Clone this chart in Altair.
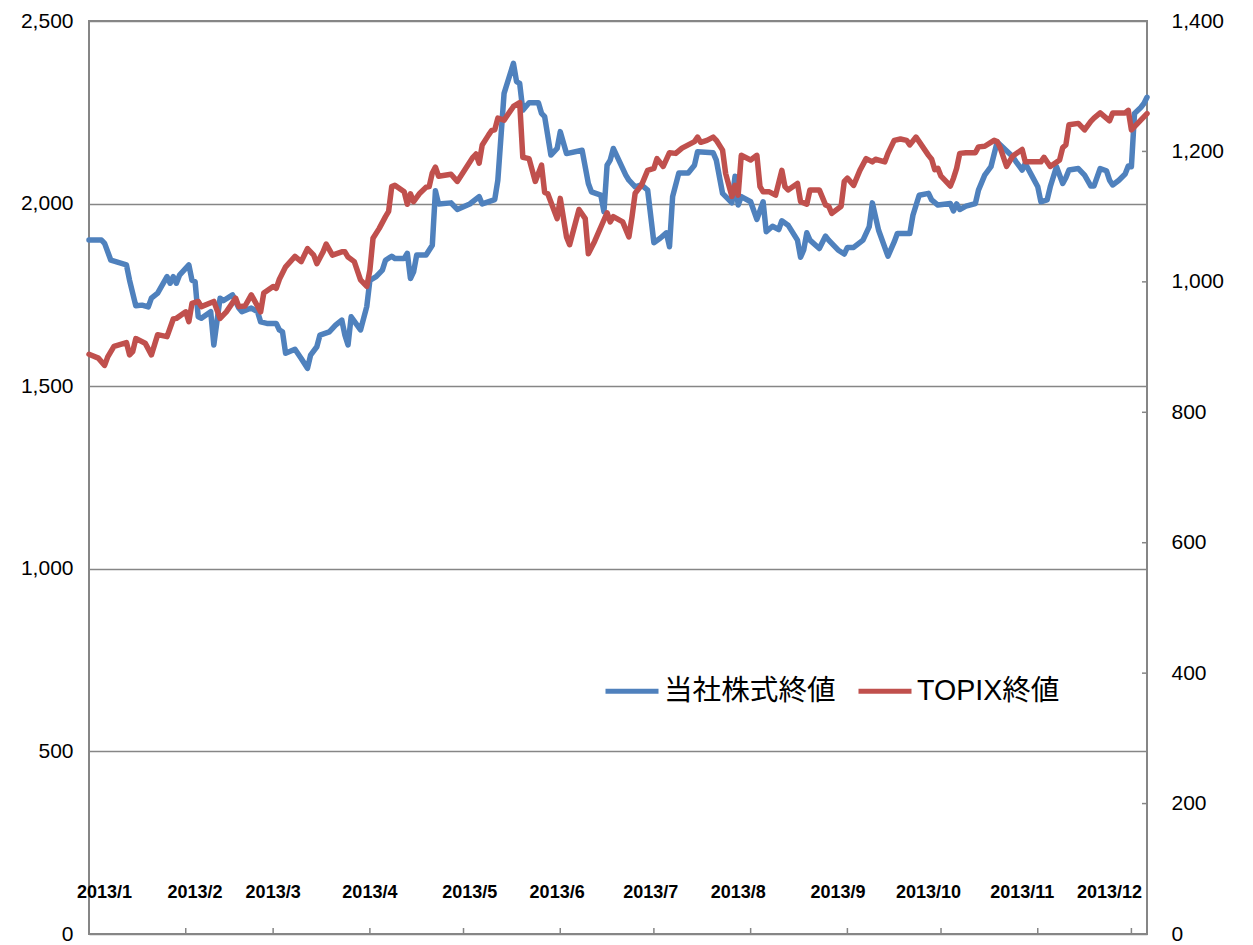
import altair as alt
import pandas as pd

S1 = "当社株式終値"
S2 = "TOPIX終値"
BLUE = "#4F81BD"
RED = "#C0504D"
FRAME = "#868686"

stock_dates = [
    "2013-01-04", "2013-01-08", "2013-01-09", "2013-01-11", "2013-01-16", "2013-01-17", "2013-01-19",
    "2013-01-21", "2013-01-23", "2013-01-24", "2013-01-26", "2013-01-29", "2013-01-30", "2013-01-31",
    "2013-02-01", "2013-02-02", "2013-02-05", "2013-02-06", "2013-02-07", "2013-02-08", "2013-02-09",
    "2013-02-12", "2013-02-13", "2013-02-15", "2013-02-16", "2013-02-19", "2013-02-21", "2013-02-22",
    "2013-02-25", "2013-02-27", "2013-02-28", "2013-03-02", "2013-03-05", "2013-03-06", "2013-03-07",
    "2013-03-08", "2013-03-11", "2013-03-13", "2013-03-15", "2013-03-16", "2013-03-18", "2013-03-19",
    "2013-03-22", "2013-03-24", "2013-03-26", "2013-03-27", "2013-03-28", "2013-03-29", "2013-04-01",
    "2013-04-03", "2013-04-04", "2013-04-06", "2013-04-08", "2013-04-09", "2013-04-11", "2013-04-12",
    "2013-04-15", "2013-04-16", "2013-04-17", "2013-04-18", "2013-04-19", "2013-04-22", "2013-04-24",
    "2013-04-25", "2013-04-26", "2013-04-30", "2013-05-02", "2013-05-06", "2013-05-09", "2013-05-10",
    "2013-05-14", "2013-05-15", "2013-05-17", "2013-05-20", "2013-05-21", "2013-05-22", "2013-05-23",
    "2013-05-25", "2013-05-28", "2013-05-29", "2013-05-30", "2013-06-01", "2013-06-03", "2013-06-04",
    "2013-06-06", "2013-06-11", "2013-06-13", "2013-06-14", "2013-06-17", "2013-06-18", "2013-06-19",
    "2013-06-20", "2013-06-21", "2013-06-25", "2013-06-26", "2013-06-28", "2013-06-30", "2013-07-02",
    "2013-07-04", "2013-07-06", "2013-07-08", "2013-07-09", "2013-07-10", "2013-07-12", "2013-07-15",
    "2013-07-17", "2013-07-18", "2013-07-23", "2013-07-24", "2013-07-26", "2013-07-29", "2013-07-30",
    "2013-07-31", "2013-08-01", "2013-08-04", "2013-08-06", "2013-08-08", "2013-08-09", "2013-08-11",
    "2013-08-13", "2013-08-14", "2013-08-16", "2013-08-19", "2013-08-20", "2013-08-21", "2013-08-22",
    "2013-08-23", "2013-08-26", "2013-08-28", "2013-08-29", "2013-09-01", "2013-09-03", "2013-09-04",
    "2013-09-06", "2013-09-09", "2013-09-11", "2013-09-12", "2013-09-14", "2013-09-17", "2013-09-19",
    "2013-09-20", "2013-09-24", "2013-09-25", "2013-09-27", "2013-09-30", "2013-10-01", "2013-10-03",
    "2013-10-07", "2013-10-08", "2013-10-09", "2013-10-10", "2013-10-12", "2013-10-15", "2013-10-16",
    "2013-10-18", "2013-10-20", "2013-10-22", "2013-10-27", "2013-10-28", "2013-10-30", "2013-10-31",
    "2013-11-02", "2013-11-04", "2013-11-05", "2013-11-07", "2013-11-08", "2013-11-10", "2013-11-12",
    "2013-11-13", "2013-11-14", "2013-11-17", "2013-11-19", "2013-11-21", "2013-11-22", "2013-11-24",
    "2013-11-26", "2013-11-27", "2013-11-28", "2013-11-30", "2013-12-02", "2013-12-03", "2013-12-04",
    "2013-12-05", "2013-12-07", "2013-12-08", "2013-12-09",
]
stock_values = [
    1900, 1900, 1891, 1845, 1832, 1790, 1720,
    1722, 1717, 1741, 1755, 1800, 1782, 1800,
    1782, 1804, 1832, 1790, 1786, 1690, 1686,
    1704, 1613, 1741, 1734, 1750, 1714, 1704,
    1714, 1704, 1676, 1672, 1672, 1654, 1649,
    1590, 1601, 1576, 1549, 1585, 1608, 1640,
    1649, 1667, 1681, 1640, 1613, 1690, 1654,
    1718, 1790, 1800, 1818, 1845, 1856, 1850,
    1850, 1864, 1795, 1813, 1859, 1859, 1886,
    2035, 1999, 2002, 1984, 1999, 2019, 1999,
    2011, 2064, 2302, 2384, 2334, 2329, 2256,
    2276, 2276, 2247, 2238, 2133, 2151, 2197,
    2137, 2146, 2055, 2032, 2023, 1978, 2105,
    2119, 2151, 2078, 2064, 2046, 2051, 2037,
    1893, 1905, 1920, 1882, 2019, 2084, 2084,
    2105, 2142, 2139, 2119, 2028, 2002, 2075,
    1996, 2019, 2005, 1957, 2005, 1923, 1938,
    1929, 1953, 1941, 1900, 1853, 1873, 1920,
    1900, 1877, 1911, 1900, 1873, 1862, 1880,
    1880, 1900, 1937, 2002, 1927, 1856, 1895,
    1918, 1918, 1968, 2023, 2028, 2010, 1996,
    2000, 1980, 1999, 1984, 1993, 2000, 2037,
    2078, 2101, 2169, 2128, 2115, 2092, 2110,
    2078, 2046, 2005, 2010, 2046, 2101, 2055,
    2071, 2092, 2096, 2078, 2048, 2048, 2096,
    2090, 2064, 2051, 2064, 2081, 2103, 2101,
    2247, 2263, 2274, 2291,
]

topix_dates = [
    "2013-01-04", "2013-01-07", "2013-01-09", "2013-01-10", "2013-01-12", "2013-01-16", "2013-01-17",
    "2013-01-18", "2013-01-19", "2013-01-22", "2013-01-24", "2013-01-26", "2013-01-29", "2013-01-31",
    "2013-02-01", "2013-02-04", "2013-02-05", "2013-02-06", "2013-02-08", "2013-02-09", "2013-02-13",
    "2013-02-15", "2013-02-17", "2013-02-20", "2013-02-21", "2013-02-23", "2013-02-25", "2013-02-28",
    "2013-03-01", "2013-03-04", "2013-03-05", "2013-03-06", "2013-03-08", "2013-03-11", "2013-03-13",
    "2013-03-15", "2013-03-17", "2013-03-18", "2013-03-20", "2013-03-21", "2013-03-23", "2013-03-26",
    "2013-03-27", "2013-03-28", "2013-03-30", "2013-04-01", "2013-04-03", "2013-04-04", "2013-04-05",
    "2013-04-07", "2013-04-09", "2013-04-10", "2013-04-11", "2013-04-12", "2013-04-15", "2013-04-16",
    "2013-04-17", "2013-04-18", "2013-04-20", "2013-04-22", "2013-04-23", "2013-04-24", "2013-04-25",
    "2013-04-26", "2013-04-30", "2013-05-02", "2013-05-07", "2013-05-08", "2013-05-09", "2013-05-10",
    "2013-05-12", "2013-05-13", "2013-05-14", "2013-05-15", "2013-05-17", "2013-05-20", "2013-05-22",
    "2013-05-23", "2013-05-25", "2013-05-27", "2013-05-29", "2013-05-30", "2013-05-31", "2013-06-03",
    "2013-06-04", "2013-06-06", "2013-06-07", "2013-06-10", "2013-06-12", "2013-06-13", "2013-06-15",
    "2013-06-19", "2013-06-20", "2013-06-21", "2013-06-24", "2013-06-26", "2013-06-27", "2013-06-28",
    "2013-06-30", "2013-07-02", "2013-07-04", "2013-07-05", "2013-07-07", "2013-07-09", "2013-07-11",
    "2013-07-13", "2013-07-17", "2013-07-18", "2013-07-19", "2013-07-21", "2013-07-23", "2013-07-24",
    "2013-07-26", "2013-07-27", "2013-07-29", "2013-07-30", "2013-07-31", "2013-08-01", "2013-08-04",
    "2013-08-06", "2013-08-07", "2013-08-08", "2013-08-10", "2013-08-12", "2013-08-14", "2013-08-15",
    "2013-08-16", "2013-08-19", "2013-08-20", "2013-08-22", "2013-08-23", "2013-08-26", "2013-08-28",
    "2013-08-29", "2013-08-30", "2013-09-02", "2013-09-03", "2013-09-04", "2013-09-06", "2013-09-08",
    "2013-09-10", "2013-09-12", "2013-09-13", "2013-09-16", "2013-09-17", "2013-09-19", "2013-09-21",
    "2013-09-23", "2013-09-24", "2013-09-26", "2013-09-27", "2013-09-30", "2013-10-01", "2013-10-02",
    "2013-10-03", "2013-10-04", "2013-10-07", "2013-10-08", "2013-10-09", "2013-10-10", "2013-10-12",
    "2013-10-15", "2013-10-16", "2013-10-18", "2013-10-21", "2013-10-22", "2013-10-23", "2013-10-25",
    "2013-10-27", "2013-10-30", "2013-10-31", "2013-11-05", "2013-11-06", "2013-11-08", "2013-11-11",
    "2013-11-12", "2013-11-13", "2013-11-14", "2013-11-17", "2013-11-19", "2013-11-21", "2013-11-22",
    "2013-11-24", "2013-11-27", "2013-11-28", "2013-12-02", "2013-12-03", "2013-12-04", "2013-12-07",
    "2013-12-09",
]
topix_values = [
    889, 883, 872, 885, 901, 907, 888,
    893, 913, 906, 888, 919, 916, 943,
    944, 954, 939, 967, 970, 962, 970,
    944, 954, 975, 962, 963, 980, 954,
    983, 993, 990, 1004, 1023, 1039, 1031,
    1051, 1041, 1028, 1046, 1058, 1041, 1046,
    1046, 1038, 1031, 1003, 993, 1018, 1067,
    1082, 1100, 1108, 1146, 1148, 1138, 1119,
    1135, 1123, 1136, 1145, 1146, 1167, 1176,
    1162, 1165, 1154, 1191, 1196, 1182, 1210,
    1225, 1232, 1233, 1251, 1248, 1269, 1275,
    1191, 1189, 1154, 1179, 1137, 1135, 1097,
    1128, 1069, 1057, 1111, 1097, 1043, 1062,
    1106, 1092, 1100, 1092, 1069, 1100, 1136,
    1148, 1171, 1174, 1189, 1177, 1198, 1197,
    1205, 1215, 1222, 1214, 1217, 1222, 1217,
    1202, 1166, 1131, 1148, 1133, 1194, 1187,
    1194, 1146, 1138, 1138, 1133, 1171, 1146,
    1141, 1151, 1123, 1119, 1141, 1141, 1118,
    1116, 1105, 1116, 1154, 1159, 1148, 1171,
    1189, 1184, 1188, 1184, 1197, 1217, 1219,
    1217, 1210, 1222, 1215, 1194, 1188, 1172,
    1174, 1162, 1147, 1159, 1174, 1197, 1198,
    1198, 1207, 1208, 1217, 1215, 1205, 1177,
    1193, 1203, 1184, 1184, 1191, 1177, 1187,
    1206, 1210, 1241, 1243, 1233, 1246, 1251,
    1259, 1247, 1259, 1259, 1263, 1233, 1248,
    1258,
]

# month boundary tick marks on the date axis
tick_dates = ["2013-01-04", "2013-02-04", "2013-03-04", "2013-04-04", "2013-05-04", "2013-06-04",
              "2013-07-04", "2013-08-04", "2013-09-04", "2013-10-04", "2013-11-04", "2013-12-04"]
# month labels (placed inside the plot, as in the original)
month_label_dates = ["2013-01-09", "2013-02-07", "2013-03-04", "2013-04-04", "2013-05-06", "2013-06-03",
                     "2013-07-03", "2013-07-31", "2013-09-01", "2013-09-30", "2013-10-30", "2013-11-27"]
month_labels = ["2013/1", "2013/2", "2013/3", "2013/4", "2013/5", "2013/6",
                "2013/7", "2013/8", "2013/9", "2013/10", "2013/11", "2013/12"]
left_ticks = [0, 500, 1000, 1500, 2000, 2500]
right_ticks = [0, 200, 400, 600, 800, 1000, 1200, 1400]

W, H = 1058, 913

df_stock = pd.DataFrame({"date": pd.to_datetime(stock_dates), "value": stock_values, "series": S1})
df_topix = pd.DataFrame({"date": pd.to_datetime(topix_dates), "value": topix_values, "series": S2})
df_ticks = pd.DataFrame({"date": pd.to_datetime(tick_dates)})
df_labels = pd.DataFrame({"date": pd.to_datetime(month_label_dates), "label": month_labels})
df_rticks = pd.DataFrame({"v": right_ticks})

x_scale = alt.Scale(domain=[alt.DateTime(year=2013, month=1, date=4),
                            alt.DateTime(year=2013, month=12, date=9)])
color_enc = alt.Color(
    "series:N",
    scale=alt.Scale(domain=[S1, S2], range=[BLUE, RED]),
    title=None,
    legend=alt.Legend(
        orient="none", legendX=514, legendY=641, direction="horizontal",
        symbolType="stroke", symbolSize=2809, symbolStrokeWidth=5,
        labelFontSize=28.6, labelFont="Liberation Sans, Noto Sans CJK JP",
        labelColor="black", labelOffset=3, columnPadding=12, labelLimit=600, padding=0,
    ),
)

stock_line = alt.Chart(df_stock).mark_line(strokeWidth=5.5, strokeJoin="round", strokeCap="round").encode(
    x=alt.X("date:T", scale=x_scale, axis=None),
    y=alt.Y("value:Q", scale=alt.Scale(domain=[0, 2500], nice=False),
            axis=alt.Axis(orient="left", values=left_ticks, format=",d", title=None,
                          grid=True, gridColor=FRAME, gridWidth=1.5, domain=False, ticks=False,
                          labelFontSize=21, labelFont="Liberation Sans", labelColor="black",
                          labelPadding=16, minExtent=75, maxExtent=75)),
    color=color_enc,
)

topix_line = alt.Chart(df_topix).mark_line(strokeWidth=5.5, strokeJoin="round", strokeCap="round").encode(
    x=alt.X("date:T", scale=x_scale, axis=None),
    y=alt.Y("value:Q", scale=alt.Scale(domain=[0, 1400], nice=False),
            axis=alt.Axis(orient="right", values=right_ticks, format=",d", title=None,
                          grid=False, domain=False, ticks=False,
                          labelFontSize=21, labelFont="Liberation Sans", labelColor="black",
                          labelPadding=24)),
    color=color_enc,
)

bottom_ticks = alt.Chart(df_ticks).mark_rule(color=FRAME, strokeWidth=1.5).encode(
    x=alt.X("date:T", scale=x_scale, axis=None),
    y=alt.value(H - 6),
    y2=alt.value(H),
)

right_tick_marks = alt.Chart(df_rticks).mark_rule(color=FRAME, strokeWidth=1.5).encode(
    y=alt.Y("v:Q", scale=alt.Scale(domain=[0, 1400], nice=False), axis=None),
    x=alt.value(W - 5),
    x2=alt.value(W),
)

labels = alt.Chart(df_labels).mark_text(
    font="Liberation Sans", fontSize=18, fontWeight="bold", color="black",
    align="center", baseline="middle",
).encode(
    x=alt.X("date:T", scale=x_scale, axis=None),
    y=alt.value(872),
    text="label:N",
)

chart = alt.layer(
    bottom_ticks, right_tick_marks, stock_line, topix_line, labels
).resolve_scale(
    y="independent"
).properties(
    width=W, height=H, background="white",
    padding={"left": 6, "top": 2, "right": 5, "bottom": 5},
).configure_view(
    stroke=FRAME, strokeWidth=2
)

chart.save("out.html", embed_options={"renderer": "svg", "actions": False})
